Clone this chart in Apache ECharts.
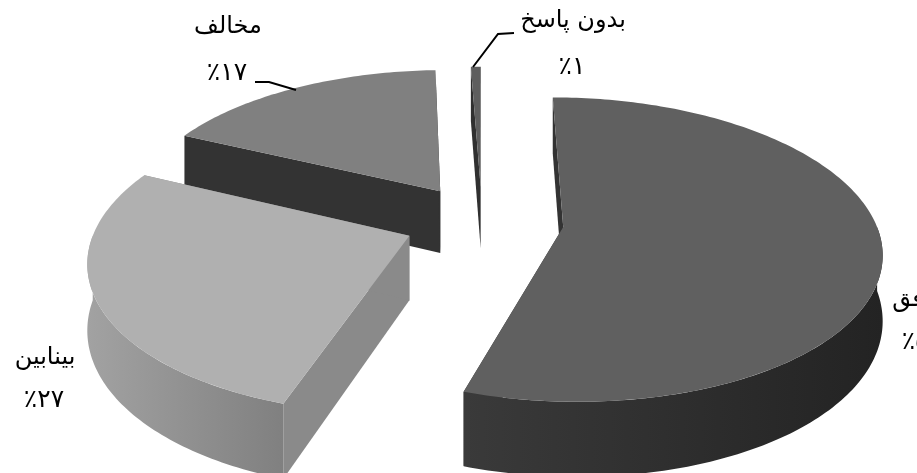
<!DOCTYPE html>
<html><head><meta charset="utf-8">
<style>html,body{margin:0;padding:0;background:#fff}#c{width:917px;height:473px;filter:blur(0.45px)}</style>
<script src="https://cdn.jsdelivr.net/npm/echarts@6/dist/echarts.min.js"></script>
</head><body><div id="c"></div>
<script>
const categories = ['موافق', 'بینابین', 'مخالف', 'بدون پاسخ'];
const values = [55, 27, 17.4, 0.6];
const percentLabels = ['٪۵۵', '٪۲۷', '٪۱۷', '٪۱'];

const view = {vx: 482, vy: -779, K: 6800, W: 312, d: 6.8, h: 0.0636};
const explode = [0.262, 0.25, 0.25, 0.24];
const looks = [
  {top:'#606060', cut:'#333333', wall:['#3a3a3a','#232323']},
  {top:'#b0b0b0', cut:'#8a8a8a', wall:['#a2a2a2','#808080']},
  {top:'#808080', cut:'#333333', wall:['#666666','#666666']},
  {top:'#5e5e5e', cut:'#303030', wall:['#444444','#444444']}
];
const labelLayout = [
  {name:[924,300], pct:[922,342], line:null},
  {name:[45,358], pct:[44,400], line:null},
  {name:[228,27], pct:[227,73], line:[[255,82],[269,82],[296,90]]},
  {name:[573,21], pct:[572,67], line:[[514,33],[498,34],[473,67]]}
];
const nameFont = '24px "DejaVu Sans"';
const pctFont = '25px "DejaVu Sans"';

const total = values.reduce((a,b)=>a+b,0);
const starts = []; values.reduce((acc,v,i)=>{starts[i]=acc;return acc+v;},0);

function project(X, Y, low){
  const den = view.d + Y;
  return [view.vx + X*view.W*view.d/den, view.vy + view.K*(low?1+view.h:1)/den];
}
function renderSlice(params){
  const i = values.length-1-params.dataIndex;
  const a0 = starts[i]/total*360, a1 = (starts[i]+values[i])/total*360;
  const mid = (a0+a1)/2*Math.PI/180;
  const ox = Math.sin(mid)*explode[i], oy = Math.cos(mid)*explode[i];
  const arc = (from,to,low)=>{ const pts=[]; const n=Math.max(2,Math.ceil(to-from));
    for(let k=0;k<=n;k++){const t=(from+(to-from)*k/n)*Math.PI/180;
      pts.push(project(ox+Math.sin(t),oy+Math.cos(t),low));}
    return pts; };
  const cTop = project(ox,oy,false), cLow = project(ox,oy,true);
  const topArc = arc(a0,a1,false), lowArc = arc(a0,a1,true);
  const look = looks[i];
  const kids = [];
  const cut = (p,q)=>({type:'polygon',shape:{points:[cTop,p,q,cLow]},style:{fill:look.cut}});
  kids.push(cut(topArc[0],lowArc[0]));
  kids.push(cut(topArc[topArc.length-1],lowArc[lowArc.length-1]));
  const f0 = Math.max(a0,90), f1 = Math.min(a1,270);
  if(f1>f0){
    kids.push({type:'polygon',shape:{points:arc(f0,f1,false).concat(arc(f0,f1,true).reverse())},
      style:{fill:new echarts.graphic.LinearGradient(0,0,1,0,[{offset:0,color:look.wall[0]},{offset:1,color:look.wall[1]}])}});
  }
  kids.push({type:'polygon',shape:{points:[cTop].concat(topArc)},style:{fill:look.top}});
  const lay = labelLayout[i];
  if(lay.line) kids.push({type:'polyline',shape:{points:lay.line},style:{stroke:'#000',lineWidth:2,fill:null},z2:5});
  const txt=(s,p,f)=>({type:'text',x:p[0],y:p[1],z2:5,style:{text:s,font:f,fill:'#000',align:'center',verticalAlign:'middle'}});
  kids.push(txt(categories[i],lay.name,nameFont));
  kids.push(txt(percentLabels[i],lay.pct,pctFont));
  return {type:'group',children:kids};
}
const chart = echarts.init(document.getElementById('c'),null,{renderer:'canvas'});
chart.setOption({
  animation:false,
  backgroundColor:'#fff',
  series:[{type:'custom',coordinateSystem:'none',silent:true,clip:false,
    renderItem:renderSlice,
    data:values.map((v,i)=>({name:categories[i],value:v})).reverse()}]
});
</script></body></html>
